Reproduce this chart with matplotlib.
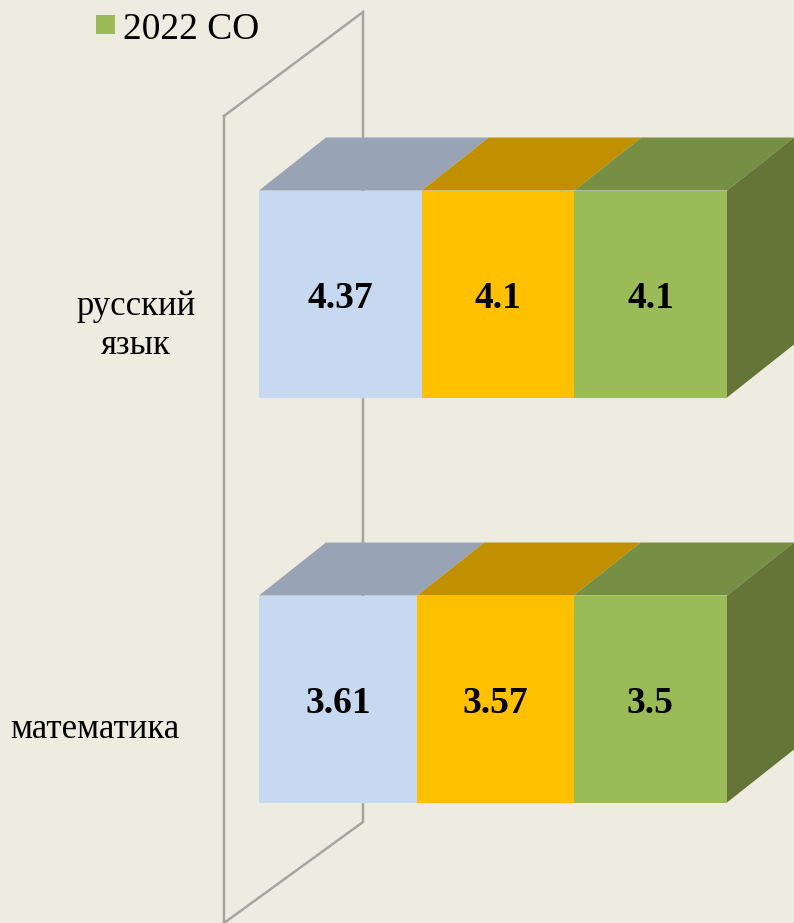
import matplotlib
matplotlib.use("Agg")
import matplotlib.pyplot as plt
from matplotlib.patches import Polygon, Rectangle

# data
categories = ["математика", "русский\nязык"]
series1 = [3.61, 4.37]
series2 = [3.57, 4.1]
series3 = [3.5, 4.1]
legend_label = "2022 СО"

bg = "#EEECE1"
front_colors = ["#C6D9F1", "#FFC000", "#9BBB59"]
top_colors = ["#98A4B5", "#C09000", "#778F45"]
side_color = "#647537"
wall_color = "#A6A6A0"

W, H = 794, 923
plt.rcParams["font.family"] = ["Liberation Serif", "DejaVu Serif"]

fig = plt.figure(figsize=(W / 100, H / 100), dpi=100, facecolor=bg)
ax = fig.add_axes([0, 0, 1, 1])
ax.set_facecolor(bg)
ax.axis("off")

# 100% stacked: 0 at px 259, 100 at px 727
px_x = 468 / 100
px_y = 405.0  # px between the two categories
ax.set_xlim(-259 / px_x, (W - 259) / px_x)
ax.set_ylim(-(H - 699) / px_y, 1 + 294 / px_y)

depth_x = 67 / px_x
depth_y = 53 / px_y
bar_h = 207 / px_y


def px(x, y):
    # pixel position in the reference -> data position
    return (x - 259) / px_x, (699 - y) / px_y


# back wall
wall = [px(224, 116), px(363, 12), px(363, 822), px(224, 923), px(224, 116)]
ax.plot([p[0] for p in wall], [p[1] for p in wall], color=wall_color, lw=1.8, zorder=1,
        solid_joinstyle="miter", clip_on=False)

all_series = [series1, series2, series3]
for i in range(len(categories)):
    total = series1[i] + series2[i] + series3[i]
    y0 = i - bar_h / 2
    y1 = i + bar_h / 2
    left = 0
    for j, s in enumerate(all_series):
        w = s[i] / total * 100
        ax.add_patch(Rectangle((left, y0), w, bar_h, facecolor=front_colors[j], edgecolor="none", zorder=3))
        ax.add_patch(Polygon([(left, y1), (left + w, y1), (left + w + depth_x, y1 + depth_y), (left + depth_x, y1 + depth_y)],
                             closed=True, facecolor=top_colors[j], edgecolor="none", zorder=2))
        ax.text(left + w / 2, i - 4.5 / px_y, f"{s[i]:g}", ha="center", va="center", fontsize=27,
                fontweight="bold", color="black", zorder=5)
        left += w
    ax.add_patch(Polygon([(100, y0), (100, y1), (100 + depth_x, y1 + depth_y), (100 + depth_x, y0 + depth_y)],
                         closed=True, facecolor=side_color, edgecolor="none", zorder=4))

# category labels
x, y = px(136, 326)
ax.text(x, y, categories[1], ha="center", va="center", fontsize=25, linespacing=1.27, color="black")
x, y = px(95, 730)
ax.text(x, y, categories[0], ha="center", va="center", fontsize=25, color="black")

# legend
x0, y0 = px(96, 34)
ax.add_patch(Rectangle((x0, y0), 19 / px_x, 19 / px_y, facecolor=front_colors[2], edgecolor="none"))
x, y = px(123, 30)
ax.text(x, y, legend_label, ha="left", va="center", fontsize=27, color="black")

fig.savefig("out.png", dpi=100, facecolor=bg)
